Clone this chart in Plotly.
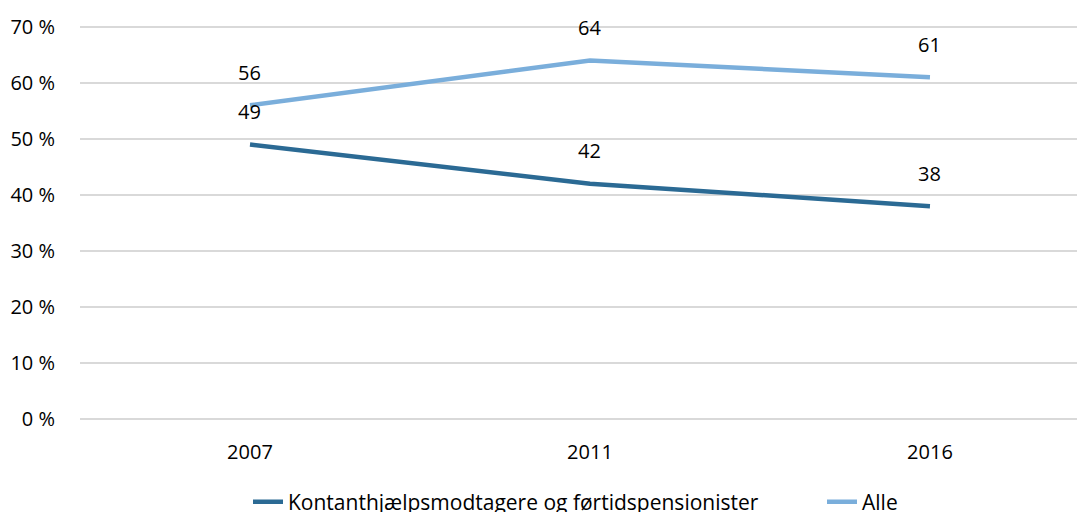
import plotly.graph_objects as go

years = ["2007", "2011", "2016"]
kontant = [49, 42, 38]
alle = [56, 64, 61]
series_names = ["Kontanthjælpsmodtagere og førtidspensionister", "Alle"]
y_ticks = [0, 10, 20, 30, 40, 50, 60, 70]

dark = "#2b6a94"
light = "#7aaedb"
font = "'Open Sans', sans-serif"

xpos = list(range(len(years)))

fig = go.Figure()
fig.add_trace(go.Scatter(x=xpos, y=kontant, mode="lines", name=series_names[0],
                         line=dict(color=dark, width=4.5), legend="legend"))
fig.add_trace(go.Scatter(x=xpos, y=alle, mode="lines", name=series_names[1],
                         line=dict(color=light, width=4.5), legend="legend2"))

for vals in (kontant, alle):
    for xi, v in zip(xpos, vals):
        fig.add_annotation(x=xi, y=v, text=str(v), showarrow=False, yshift=33,
                           font=dict(family=font, size=20, color="#000"))

legend_common = dict(orientation="h", xanchor="left", xref="container",
                     y=10 / 504, yanchor="middle", yref="container",
                     font=dict(size=21), bgcolor="rgba(0,0,0,0)")

fig.update_layout(
    width=1077, height=504,
    margin=dict(l=72, r=0, t=16, b=90, autoexpand=False),
    paper_bgcolor="white", plot_bgcolor="white",
    font=dict(family=font, size=20, color="#000"),
    showlegend=True,
    legend=dict(x=240 / 1077, **legend_common),
    legend2=dict(x=814 / 1077, **legend_common),
)
fig.update_xaxes(range=[-0.5, 2.456], tickvals=xpos, ticktext=years,
                 showgrid=False, zeroline=False, showline=False, automargin=False,
                 ticks="outside", ticklen=12, tickcolor="rgba(0,0,0,0)")
fig.update_yaxes(range=[-0.5, 70.5], tickvals=y_ticks,
                 ticktext=[f"{v} %" for v in y_ticks],
                 showgrid=True, gridcolor="#d9d9d9", gridwidth=2,
                 zeroline=False, showline=False, automargin=False,
                 ticks="outside", ticklen=20, tickcolor="rgba(0,0,0,0)")

fig.write_html("out.html")
